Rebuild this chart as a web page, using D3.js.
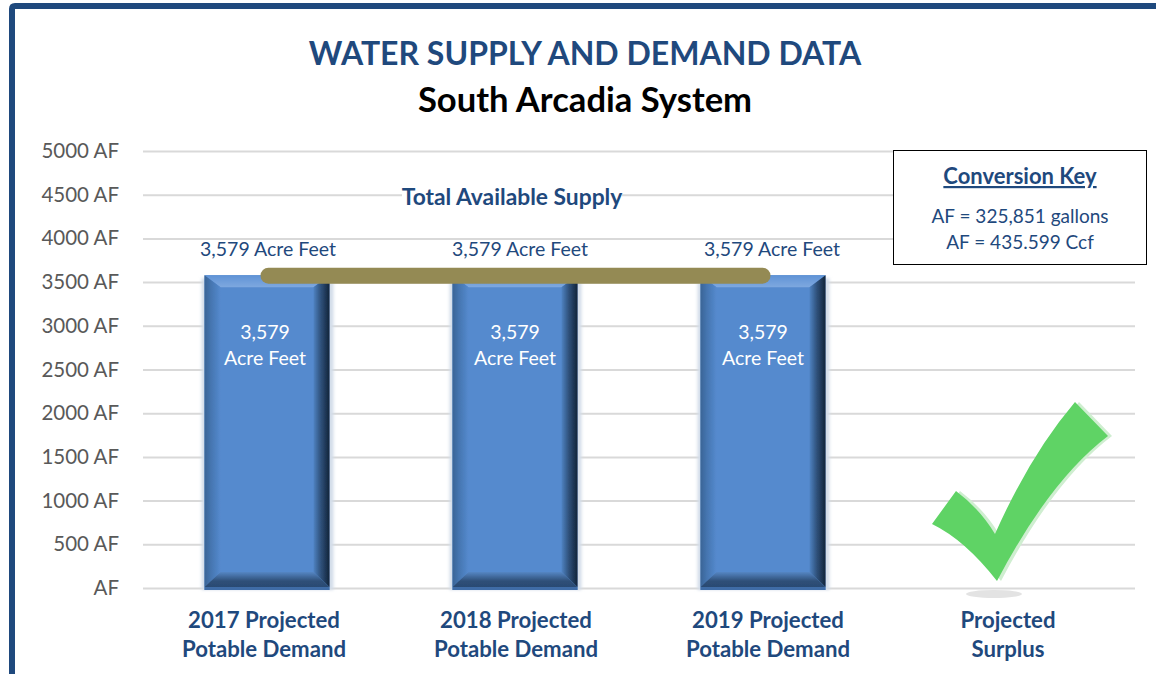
<!DOCTYPE html>
<html>
<head>
<meta charset="utf-8">
<script src="https://cdn.jsdelivr.net/npm/d3@7"></script>
<style>
  html, body { margin: 0; background: #fff; }
  svg { display: block; }
  text { font-family: Lato, "Open Sans", sans-serif; }
</style>
</head>
<body>
<script>
const categories = ['2017 Projected|Potable Demand', '2018 Projected|Potable Demand', '2019 Projected|Potable Demand', 'Projected|Surplus'];
const demand = [3579, 3579, 3579];
const supply = [3579, 3579, 3579];
const yTicks = [0, 500, 1000, 1500, 2000, 2500, 3000, 3500, 4000, 4500, 5000];
const keyLines = ['AF = 325,851 gallons', 'AF = 435.599 Ccf'];

const width = 1156, height = 674;
const navy = '#1f497d';

const svg = d3.select('body').append('svg').attr('width', width).attr('height', height);
const defs = svg.append('defs');

defs.append('filter').attr('id', 'soft').append('feGaussianBlur').attr('stdDeviation', 0.7);
defs.append('filter').attr('id', 'glow').attr('x', '-20%').attr('width', '140%')
  .append('feGaussianBlur').attr('stdDeviation', 1.5);

function sideGradient(id, x2, y2, stops) {
  const g = defs.append('linearGradient').attr('id', id)
    .attr('x1', 0).attr('y1', 0).attr('x2', x2).attr('y2', y2);
  stops.forEach(s => g.append('stop').attr('offset', s[0]).attr('stop-color', s[1]));
}
sideGradient('bevelTop', 0, 1, [[0, '#5f93d6'], [1, '#7ea8df']]);
sideGradient('bevelLeft', 1, 0, [[0, '#3a6496'], [0.4, '#4575b0'], [1, '#558ace']]);
sideGradient('bevelRight', 1, 0, [[0, '#4f82c2'], [0.45, '#2f527c'], [1, '#12243a']]);
sideGradient('bevelBottom', 0, 1, [[0, '#5586c4'], [0.6, '#2f5078'], [1, '#2a4a72']]);

const x = d3.scaleBand().domain(categories).range([143, 1135]).paddingInner(0.496).paddingOuter(0.248);
const y = d3.scaleLinear().domain([0, 5000]).range([588, 151]);

// outer frame, runs off the right and bottom of the slide
svg.append('path')
  .attr('d', `M12,${height + 10} V9 Q12,6 15,6 H${width + 10}`)
  .attr('fill', 'none').attr('stroke', navy).attr('stroke-width', 6);

svg.append('text').attr('x', 585).attr('y', 65).attr('text-anchor', 'middle')
  .attr('font-size', 32).attr('font-weight', 700).attr('fill', navy)
  .text('WATER SUPPLY AND DEMAND DATA');
svg.append('text').attr('x', 585).attr('y', 112).attr('text-anchor', 'middle')
  .attr('font-size', 34.6).attr('font-weight', 700).attr('fill', '#000')
  .text('South Arcadia System');

// y axis + gridlines
const yAxis = svg.append('g').attr('transform', 'translate(143,0)')
  .call(d3.axisLeft(y).tickValues(yTicks).tickSize(-992).tickPadding(24)
    .tickFormat(d => d === 0 ? 'AF' : d + ' AF'));
yAxis.select('.domain').remove();
yAxis.selectAll('line').attr('stroke', '#d9d9d9').attr('stroke-width', 2);
yAxis.selectAll('text').attr('font-size', 20.5).attr('fill', '#595959')
  .style('font-family', 'Lato, "Open Sans", sans-serif');

// bars
const bars = svg.append('g').selectAll('g').data(demand).join('g');
const bevel = 16;
bars.each(function (d, i) {
  const g = d3.select(this);
  const x0 = x(categories[i]), x1 = x0 + x.bandwidth(), y0 = y(d), y1 = y(0) + 2;
  const poly = pts => pts.map(p => p.join(',')).join(' ');

  g.append('rect').attr('x', x0 - 3).attr('y', y0 + 3).attr('width', x.bandwidth() + 7).attr('height', y1 - y0 - 3)
    .attr('fill', '#d3dde9').attr('filter', 'url(#glow)');
  g.append('rect').attr('x', x0).attr('y', y0).attr('width', x.bandwidth()).attr('height', y1 - y0)
    .attr('fill', '#558ace');

  const s = g.append('g').attr('filter', 'url(#soft)');
  s.append('polygon').attr('fill', 'url(#bevelTop)')
    .attr('points', poly([[x0, y0], [x1, y0], [x1 - bevel, y0 + bevel - 4], [x0 + bevel, y0 + bevel - 4]]));
  s.append('polygon').attr('fill', 'url(#bevelLeft)')
    .attr('points', poly([[x0, y0], [x0 + bevel, y0 + bevel - 4], [x0 + bevel, y1 - bevel - 2], [x0, y1 - 3]]));
  s.append('polygon').attr('fill', 'url(#bevelRight)')
    .attr('points', poly([[x1, y0], [x1 - bevel, y0 + bevel - 4], [x1 - bevel, y1 - bevel - 2], [x1, y1 - 3]]));
  s.append('polygon').attr('fill', 'url(#bevelBottom)')
    .attr('points', poly([[x0, y1 - 3], [x0 + bevel, y1 - bevel - 2], [x1 - bevel, y1 - bevel - 2], [x1, y1 - 3]]));
  g.append('rect').attr('x', x0).attr('y', y1 - 3).attr('width', x.bandwidth()).attr('height', 3).attr('fill', '#3f6ca6');

  const cx = (x0 + x1) / 2 - (i === 0 ? 2 : 0);
  g.append('text').attr('x', cx).attr('y', 339).attr('text-anchor', 'middle')
    .attr('font-size', 19.5).attr('fill', '#fff').text(d3.format(',')(d));
  g.append('text').attr('x', cx).attr('y', 365).attr('text-anchor', 'middle')
    .attr('font-size', 19.5).attr('fill', '#fff').text('Acre Feet');
});

// supply line and its labels
const supplyShift = [1, 5, 9];
svg.append('line')
  .attr('x1', x(categories[0]) + 64).attr('x2', x(categories[2]) + 62)
  .attr('y1', y(supply[0]) + 0.5).attr('y2', y(supply[0]) + 0.5)
  .attr('stroke', '#948a54').attr('stroke-width', 16).attr('stroke-linecap', 'round');
svg.append('g').selectAll('text').data(supply).join('text')
  .attr('x', (d, i) => x(categories[i]) + x.bandwidth() / 2 + supplyShift[i])
  .attr('y', 256).attr('text-anchor', 'middle')
  .attr('font-size', 19.5).attr('fill', navy)
  .text(d => d3.format(',')(d) + ' Acre Feet');

// white patch behind the heading breaks the gridline
svg.append('rect').attr('x', 402).attr('y', 186).attr('width', 220).attr('height', 22).attr('fill', '#fff');
svg.append('text').attr('x', 512).attr('y', 205).attr('text-anchor', 'middle')
  .attr('font-size', 22.8).attr('font-weight', 700).attr('fill', navy).text('Total Available Supply');

// category labels
const labelShift = [-3, 1, 5, -3];
const catLabels = svg.append('g').selectAll('text').data(categories).join('text')
  .attr('text-anchor', 'middle').attr('font-size', 22.2).attr('font-weight', 700).attr('fill', navy);
catLabels.each(function (d, i) {
  const cx = x(d) + x.bandwidth() / 2 + labelShift[i];
  d.split('|').forEach((line, j) => {
    d3.select(this).append('tspan').attr('x', cx).attr('y', 628 + j * 29).text(line);
  });
});

// conversion key
svg.append('rect').attr('x', 893.5).attr('y', 150.5).attr('width', 253).attr('height', 114)
  .attr('fill', '#fff').attr('stroke', '#000');
svg.append('text').attr('x', 1020).attr('y', 184).attr('text-anchor', 'middle')
  .attr('font-size', 22).attr('font-weight', 700).attr('fill', navy)
  .attr('text-decoration', 'underline').text('Conversion Key');
svg.append('g').selectAll('text').data(keyLines).join('text')
  .attr('x', 1020).attr('y', (d, i) => 223 + i * 26).attr('text-anchor', 'middle')
  .attr('font-size', 19).attr('fill', navy).text(d => d);

// check mark
const check = 'M932,524 L956,491 Q980,509 995,534 Q1030,455 1075,402 L1108,436 Q1050,480 997,581 Q965,540 932,524 Z';
svg.append('ellipse').attr('cx', 994).attr('cy', 594).attr('rx', 28).attr('ry', 4).attr('fill', '#e3e3e3');
svg.append('path').attr('d', check).attr('fill', '#cfeed0').attr('transform', 'translate(4,0)');
svg.append('path').attr('d', check).attr('fill', '#5fd365');
</script>
</body>
</html>
